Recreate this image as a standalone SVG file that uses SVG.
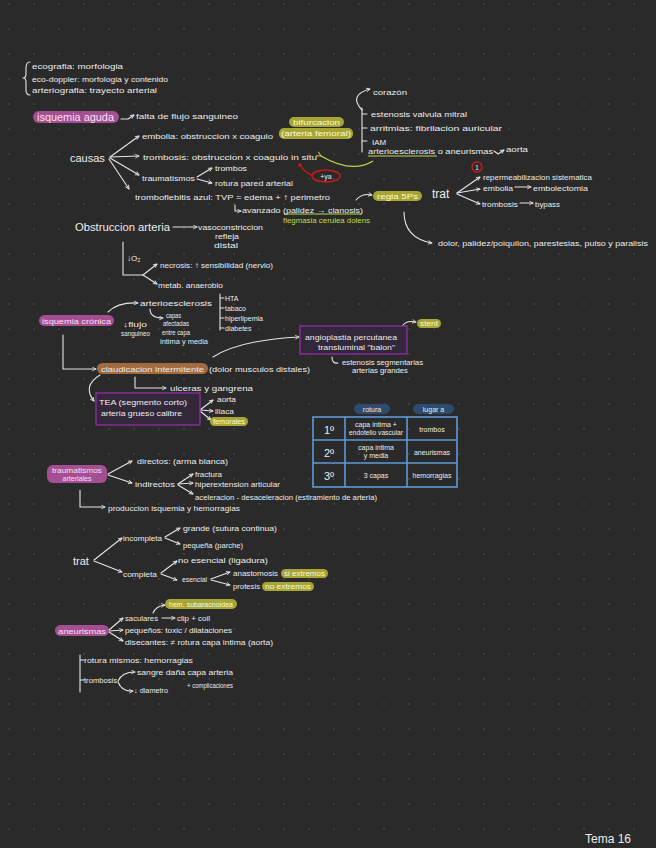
<svg xmlns="http://www.w3.org/2000/svg" width="656" height="848" viewBox="0 0 656 848">
<defs>
<style>
.t{font-family:"Liberation Sans",Arial,sans-serif;font-size:8px;fill:#ececec}
.s{font-size:7px}
.m{font-size:11px}
.l{font-size:12px}
.c{stroke:#e6e6e6;stroke-width:1.1;fill:none;stroke-linecap:round;stroke-linejoin:round}
.a{marker-end:url(#ah)}
.pk{fill:#a34f92}
.pkt{fill:#fbe0f4}
.yl{fill:#a7a536}
.ylt{fill:#fbfbd8}
.gr{fill:#c2dd45}
.bx{fill:#33283a;stroke:#8b2e9c;stroke-width:1.4}
.tb{fill:none;stroke:#5d9ad6;stroke-width:1.6}
.red{stroke:#d01818;stroke-width:1.5;fill:none}
</style>
<marker id="ah" viewBox="0 0 8 8" refX="7" refY="4" markerWidth="5" markerHeight="5" orient="auto" markerUnits="userSpaceOnUse"><path d="M1,1 L7,4 L1,7" fill="none" stroke="#e6e6e6" stroke-width="1.3"/></marker>
<marker id="ahg" viewBox="0 0 8 8" refX="1" refY="4" markerWidth="6" markerHeight="6" orient="auto" markerUnits="userSpaceOnUse"><path d="M7,1 L1,4 L7,7" fill="none" stroke="#b8d64a" stroke-width="1.3"/></marker>
<pattern id="dots" width="25" height="25" patternUnits="userSpaceOnUse" x="8" y="3"><circle cx="1" cy="1" r="0.9" fill="#454545"/></pattern>
</defs>
<rect width="656" height="848" fill="#2a2a2a"/>
<rect width="656" height="848" fill="url(#dots)"/>

<g id="connectors">
<path class="c" d="M30,62 Q26,62 26,68 L26,74 Q26,78 23,78 Q26,78 26,82 L26,90 Q26,95 30,95"/>
<path class="c a" d="M121,119 L128,119 L134,115"/>
<path class="c a" d="M110,157 L139,136"/>
<path class="c a" d="M110,157 L139,156"/>
<path class="c a" d="M110,158 L139,175"/>
<path class="c a" d="M109,159 L129,189"/>
<path class="c a" d="M197,177 L212,168"/>
<path class="c a" d="M197,179 L212,183"/>
<path class="c" d="M362,108 L362,152 M362,114 L367,114 M362,128 L367,128 M362,141 L367,141"/>
<path class="c a" d="M362,110 Q348,95 370,89"/>
<path d="M373,161 Q352,174 321,156" fill="none" stroke="#b8d64a" stroke-width="1.3" marker-end="url(#ahg)"/>
<path d="M368,156 L437,156" stroke="#b8d64a" stroke-width="1"/>
<path class="c a" d="M494,151 L498,154 L504,150"/>
<circle cx="300" cy="165" r="1.8" fill="#d01818"/>
<path class="red" d="M300,165 Q304,172 312,175"/>
<path class="c a" d="M457,193 L480,177"/>
<path class="c a" d="M457,193 L480,189"/>
<path class="c a" d="M457,194 L480,204"/>
<path class="c a" d="M515,187 L531,187"/>
<path class="c a" d="M520,203 L533,203"/>
<path class="c a" d="M356,200 Q362,193 372,195"/>
<path class="c a" d="M404,212 Q404,238 432,243"/>
<path class="c a" d="M235,205 L235,211 L241,211"/>
<path d="M284,214 L361,214" stroke="#b8d64a" stroke-width="1"/>
<path class="c a" d="M173,227 L197,227"/>
<path class="c" d="M123,242 L123,275 L143,275"/>
<path class="c a" d="M143,275 L157,264"/>
<path class="c a" d="M143,275 L157,284"/>
<path class="c a" d="M108,312 Q118,302 138,303"/>
<path class="c a" d="M150,309 Q150,318 163,318"/>
<path class="c" d="M220,294 L220,330 M220,298 L224,298 M220,308 L224,308 M220,318 L224,318 M220,328 L224,328"/>
<path class="c a" d="M63,335 L63,369 L96,369"/>
<path class="c a" d="M213,357 Q240,340 299,337"/>
<path class="c a" d="M402,327 Q405,320 416,322"/>
<path class="c" d="M332,357 Q332,364 338,363"/>
<path class="c a" d="M135,377 L135,388 L166,388"/>
<path class="c a" d="M100,375 Q82,386 94,401"/>
<path class="c a" d="M200,410 L213,400"/>
<path class="c a" d="M200,410 L213,411"/>
<path class="c a" d="M200,411 L211,420"/>
<path class="c a" d="M108,474 L132,461"/>
<path class="c a" d="M108,475 L132,483"/>
<path class="c a" d="M178,484 L193,474"/>
<path class="c a" d="M178,484 L193,483"/>
<path class="c a" d="M178,485 L193,494"/>
<path class="c a" d="M80,490 L80,507 L105,507"/>
<path class="c a" d="M94,560 L122,538"/>
<path class="c a" d="M94,561 L122,572"/>
<path class="c a" d="M165,537 L180,528"/>
<path class="c a" d="M165,538 L180,544"/>
<path class="c a" d="M161,573 L177,561"/>
<path class="c a" d="M161,574 L177,580"/>
<path class="c a" d="M211,579 L230,572"/>
<path class="c a" d="M211,580 L230,585"/>
<path class="c a" d="M153,613 Q156,606 165,605"/>
<path class="c a" d="M109,630 L123,618"/>
<path class="c a" d="M109,631 L123,630"/>
<path class="c a" d="M109,632 L123,641"/>
<path class="c a" d="M162,618 L175,618"/>
<path class="c" d="M80,655 L80,692 M80,660 L84,660 M80,680 L84,680"/>
<path class="c a" d="M118,681 Q122,672 135,672"/>
<path class="c a" d="M118,682 Q122,692 133,691"/>
</g>

<g id="imaging">
<text class="t" x="32" y="69" textLength="91" lengthAdjust="spacingAndGlyphs">ecografia: morfologia</text>
<text class="t" x="32" y="82" textLength="136" lengthAdjust="spacingAndGlyphs">eco-doppler: morfologia y contenido</text>
<text class="t" x="32" y="93" textLength="125" lengthAdjust="spacingAndGlyphs">arteriografia: trayecto arterial</text>
</g>

<g id="isquemia-aguda">
<rect class="pk" x="33" y="111" width="86" height="12" rx="6"/>
<text class="t pkt" x="37" y="121" style="font-size:10px" textLength="77" lengthAdjust="spacingAndGlyphs">isquemia aguda</text>
<text class="t" x="136" y="119" textLength="102" lengthAdjust="spacingAndGlyphs">falta de flujo sanguineo</text>
</g>

<g id="causas">
<text class="t m" x="70" y="162">causas</text>
<text class="t" x="142" y="139" textLength="131" lengthAdjust="spacingAndGlyphs">embolia: obstruccion x coagulo</text>
<text class="t" x="143" y="160" textLength="174" lengthAdjust="spacingAndGlyphs">trombosis: obstruccion x coagulo in situ</text>
<text class="t" x="142" y="181" textLength="53" lengthAdjust="spacingAndGlyphs">traumatismos</text>
<text class="t s" x="215" y="171" textLength="32" lengthAdjust="spacingAndGlyphs">trombos</text>
<text class="t" x="215" y="186" textLength="78" lengthAdjust="spacingAndGlyphs">rotura pared arterial</text>
<text class="t" x="135" y="200" textLength="195" lengthAdjust="spacingAndGlyphs">tromboflebitis azul: TVP = edema + ↑ perimetro</text>
<text class="t" x="242" y="213" textLength="121" lengthAdjust="spacingAndGlyphs">avanzado (palidez → cianosis)</text>
<text class="t s gr" x="283" y="223" textLength="87" lengthAdjust="spacingAndGlyphs">flegmasia cerulea dolens</text>
</g>

<g id="bifurcacion">
<rect class="yl" x="289" y="117" width="55" height="10" rx="5"/>
<text class="t s ylt" x="293" y="125" textLength="47" lengthAdjust="spacingAndGlyphs">bifurcacion</text>
<rect class="yl" x="279" y="128" width="74" height="11" rx="5"/>
<text class="t ylt" x="281" y="136" textLength="70" lengthAdjust="spacingAndGlyphs">(arteria femoral)</text>
</g>

<g id="origen">
<text class="t" x="373" y="95" textLength="34" lengthAdjust="spacingAndGlyphs">corazón</text>
<text class="t" x="371" y="117" textLength="96" lengthAdjust="spacingAndGlyphs">estenosis valvula mitral</text>
<text class="t" x="370" y="131" textLength="132" lengthAdjust="spacingAndGlyphs">arritmias: fibrilacion auricular</text>
<text class="t" x="372" y="145">IAM</text>
<text class="t" x="368" y="154" textLength="125" lengthAdjust="spacingAndGlyphs">arterioesclerosis o aneurismas</text>
<text class="t s" x="506" y="152" textLength="22" lengthAdjust="spacingAndGlyphs">aorta</text>
</g>

<g id="ya">
<ellipse class="red" cx="326" cy="176" rx="14" ry="6"/>
<text class="t s" x="326" y="179" text-anchor="middle" fill="#f2d0d0">+ya</text>
</g>

<g id="trat-aguda">
<text class="t l" x="432" y="198">trat</text>
<circle class="red" cx="477" cy="167" r="5"/>
<text class="t s" x="477" y="170" text-anchor="middle">1</text>
<text class="t" x="483" y="180" textLength="109" lengthAdjust="spacingAndGlyphs">repermeabilizacion sistematica</text>
<text class="t" x="483" y="191" textLength="30" lengthAdjust="spacingAndGlyphs">embolia</text>
<text class="t" x="533" y="191" textLength="55" lengthAdjust="spacingAndGlyphs">embolectomia</text>
<text class="t" x="482" y="207" textLength="36" lengthAdjust="spacingAndGlyphs">trombosis</text>
<text class="t" x="535" y="207" textLength="25" lengthAdjust="spacingAndGlyphs">bypass</text>
</g>

<g id="regla">
<rect class="yl" x="373" y="191" width="49" height="10" rx="5"/>
<text class="t ylt" x="377" y="199" textLength="41" lengthAdjust="spacingAndGlyphs">regla 5Ps</text>
<text class="t" x="438" y="246" textLength="210" lengthAdjust="spacingAndGlyphs">dolor, palidez/poiquilon, parestesias, pulso y paralisis</text>
</g>

<g id="obstruccion">
<text class="t m" x="75" y="231" textLength="95" lengthAdjust="spacingAndGlyphs">Obstruccion arteria</text>
<text class="t" x="198" y="230" textLength="65" lengthAdjust="spacingAndGlyphs">vasoconstriccion</text>
<text class="t s" x="215" y="239" textLength="24" lengthAdjust="spacingAndGlyphs">refleja</text>
<text class="t s" x="214" y="248" textLength="24" lengthAdjust="spacingAndGlyphs">distal</text>
<text class="t" x="127" y="261">↓O₂</text>
<text class="t" x="160" y="268" textLength="113" lengthAdjust="spacingAndGlyphs">necrosis: ↑ sensibilidad (nervio)</text>
<text class="t" x="158" y="288" textLength="65" lengthAdjust="spacingAndGlyphs">metab. anaerobio</text>
</g>

<g id="isquemia-cronica">
<rect class="pk" x="39" y="315" width="75" height="11" rx="5.5"/>
<text class="t pkt" x="42" y="324" textLength="69" lengthAdjust="spacingAndGlyphs">isquemia crónica</text>
<text class="t" x="140" y="306" textLength="72" lengthAdjust="spacingAndGlyphs">arterioesclerosis</text>
<text class="t s" x="166" y="318" textLength="15" lengthAdjust="spacingAndGlyphs">capas</text>
<text class="t s" x="163" y="326" textLength="26" lengthAdjust="spacingAndGlyphs">afectadas</text>
<text class="t s" x="162" y="335" textLength="28" lengthAdjust="spacingAndGlyphs">entre capa</text>
<text class="t s" x="160" y="344" textLength="48" lengthAdjust="spacingAndGlyphs">intima y media</text>
<text class="t s" x="123" y="327" textLength="24" lengthAdjust="spacingAndGlyphs">↓flujo</text>
<text class="t s" x="121" y="336" textLength="29" lengthAdjust="spacingAndGlyphs">sanguineo</text>
<text class="t s" x="225" y="301">HTA</text>
<text class="t s" x="225" y="311">tabaco</text>
<text class="t s" x="225" y="321" textLength="38" lengthAdjust="spacingAndGlyphs">hiperlipemia</text>
<text class="t s" x="225" y="331">diabetes</text>
</g>

<g id="claudicacion">
<rect x="97" y="363" width="111" height="11" rx="5.5" fill="#a16a3f"/>
<text class="t" x="101" y="371.5" fill="#f6dcc4" textLength="103" lengthAdjust="spacingAndGlyphs">claudicacion intermitente</text>
<text class="t" x="209" y="372" textLength="101" lengthAdjust="spacingAndGlyphs">(dolor musculos distales)</text>
<text class="t" x="170" y="391" textLength="83" lengthAdjust="spacingAndGlyphs">ulceras y gangrena</text>
</g>

<g id="angioplastia">
<rect class="bx" x="300" y="326" width="107" height="28"/>
<text class="t" x="305" y="340" textLength="92" lengthAdjust="spacingAndGlyphs">angioplastia percutanea</text>
<text class="t" x="318" y="350" textLength="77" lengthAdjust="spacingAndGlyphs">transluminal "balon"</text>
<rect class="yl" x="417" y="319" width="24" height="9" rx="4.5"/>
<text class="t s ylt" x="420" y="326" textLength="18" lengthAdjust="spacingAndGlyphs">stent</text>
<text class="t s" x="342" y="365" textLength="81" lengthAdjust="spacingAndGlyphs">estenosis segmentarias</text>
<text class="t s" x="352" y="373" textLength="56" lengthAdjust="spacingAndGlyphs">arterias grandes</text>
</g>

<g id="tea">
<rect class="bx" x="96" y="393" width="104" height="32"/>
<text class="t" x="99" y="405" textLength="88" lengthAdjust="spacingAndGlyphs">TEA (segmento corto)</text>
<text class="t" x="101" y="416" textLength="81" lengthAdjust="spacingAndGlyphs">arteria grueso calibre</text>
<text class="t s" x="217" y="402" textLength="19" lengthAdjust="spacingAndGlyphs">aorta</text>
<text class="t s" x="215" y="414" textLength="19" lengthAdjust="spacingAndGlyphs">iliaca</text>
<rect class="yl" x="210" y="417" width="38" height="9" rx="4.5"/>
<text class="t s ylt" x="213" y="424" textLength="32" lengthAdjust="spacingAndGlyphs">femorales</text>
</g>

<g id="tabla">
<rect x="354" y="404" width="36" height="10" rx="5" fill="#2d4b6c"/>
<text class="t s" x="372" y="411.5" text-anchor="middle" fill="#cfe3f7">rotura</text>
<rect x="413" y="404" width="41" height="10" rx="5" fill="#2d4b6c"/>
<text class="t s" x="433.5" y="411.5" text-anchor="middle" fill="#cfe3f7">lugar a</text>
<rect class="tb" x="313" y="417" width="144" height="70"/>
<path class="tb" d="M345,417 V487 M407,417 V487 M313,440 H457 M313,463 H457"/>
<text class="t m" x="329" y="434" text-anchor="middle">1º</text>
<text class="t s" x="376" y="427" text-anchor="middle">capa intima +</text>
<text class="t s" x="376" y="435" text-anchor="middle" textLength="54" lengthAdjust="spacingAndGlyphs">endotelio vascular</text>
<text class="t s" x="432" y="432" text-anchor="middle">trombos</text>
<text class="t m" x="329" y="457" text-anchor="middle">2º</text>
<text class="t s" x="376" y="450" text-anchor="middle">capa intima</text>
<text class="t s" x="376" y="458" text-anchor="middle">y media</text>
<text class="t s" x="432" y="455" text-anchor="middle">aneurismas</text>
<text class="t m" x="329" y="480" text-anchor="middle">3º</text>
<text class="t s" x="376" y="478" text-anchor="middle">3 capas</text>
<text class="t s" x="432" y="478" text-anchor="middle">hemorragias</text>
</g>

<g id="traumatismos">
<rect class="pk" x="47" y="465" width="60" height="18" rx="6"/>
<text class="t s pkt" x="77" y="473" text-anchor="middle" textLength="50" lengthAdjust="spacingAndGlyphs">traumatismos</text>
<text class="t s pkt" x="77" y="481" text-anchor="middle">arteriales</text>
<text class="t" x="137" y="464" textLength="91" lengthAdjust="spacingAndGlyphs">directos: (arma blanca)</text>
<text class="t" x="135" y="487" textLength="40" lengthAdjust="spacingAndGlyphs">indirectos</text>
<text class="t s" x="195" y="477" textLength="27" lengthAdjust="spacingAndGlyphs">fractura</text>
<text class="t s" x="195" y="487" textLength="85" lengthAdjust="spacingAndGlyphs">hiperextension articular</text>
<text class="t s" x="195" y="500" textLength="182" lengthAdjust="spacingAndGlyphs">aceleracion - desaceleracion (estiramiento de arteria)</text>
<text class="t" x="108" y="511" textLength="132" lengthAdjust="spacingAndGlyphs">produccion isquemia y hemorragias</text>
</g>

<g id="trat-trauma">
<text class="t m" x="73" y="565">trat</text>
<text class="t" x="123" y="541" textLength="39" lengthAdjust="spacingAndGlyphs">incompleta</text>
<text class="t" x="123" y="577" textLength="34" lengthAdjust="spacingAndGlyphs">completa</text>
<text class="t s" x="183" y="531" textLength="94" lengthAdjust="spacingAndGlyphs">grande (sutura continua)</text>
<text class="t s" x="183" y="548" textLength="60" lengthAdjust="spacingAndGlyphs">pequeña (parche)</text>
<text class="t s" x="178" y="563" textLength="90" lengthAdjust="spacingAndGlyphs">no esencial (ligadura)</text>
<text class="t s" x="182" y="582" textLength="25" lengthAdjust="spacingAndGlyphs">esencial</text>
<text class="t s" x="233" y="576" textLength="45" lengthAdjust="spacingAndGlyphs">anastomosis</text>
<rect class="yl" x="281" y="569" width="47" height="9" rx="4.5"/>
<text class="t s ylt" x="284" y="576" textLength="41" lengthAdjust="spacingAndGlyphs">si extremos</text>
<text class="t s" x="233" y="589" textLength="27" lengthAdjust="spacingAndGlyphs">protesis</text>
<rect class="yl" x="262" y="582" width="52" height="9" rx="4.5"/>
<text class="t s ylt" x="265" y="589" textLength="46" lengthAdjust="spacingAndGlyphs">no extremos</text>
</g>

<g id="aneurismas">
<rect class="yl" x="165" y="599" width="72" height="10" rx="5"/>
<text class="t s ylt" x="169" y="606.5" textLength="64" lengthAdjust="spacingAndGlyphs">hem. subaracnoidea</text>
<rect class="pk" x="55" y="625" width="54" height="11" rx="5.5"/>
<text class="t pkt" x="58" y="633.5" textLength="48" lengthAdjust="spacingAndGlyphs">aneurismas</text>
<text class="t s" x="125" y="621" textLength="33" lengthAdjust="spacingAndGlyphs">saculares</text>
<text class="t s" x="177" y="621" textLength="33" lengthAdjust="spacingAndGlyphs">clip + coil</text>
<text class="t s" x="125" y="633" textLength="107" lengthAdjust="spacingAndGlyphs">pequeños: toxic / dilataciones</text>
<text class="t s" x="125" y="645" textLength="148" lengthAdjust="spacingAndGlyphs">disecantes: ≠ rotura capa intima (aorta)</text>
<text class="t s" x="84" y="663" textLength="109" lengthAdjust="spacingAndGlyphs">rotura mismos: hemorragias</text>
<text class="t s" x="84" y="683" textLength="33" lengthAdjust="spacingAndGlyphs">trombosis</text>
<text class="t s" x="137" y="675" textLength="96" lengthAdjust="spacingAndGlyphs">sangre daña capa arteria</text>
<text class="t s" x="134" y="693" textLength="34" lengthAdjust="spacingAndGlyphs">↓ diametro</text>
<text class="t s" x="187" y="688" textLength="46" lengthAdjust="spacingAndGlyphs">+ complicaciones</text>
</g>

<g id="tema">
<text class="t" x="585" y="843" style="font-size:12px">Tema 16</text>
</g>
</svg>
